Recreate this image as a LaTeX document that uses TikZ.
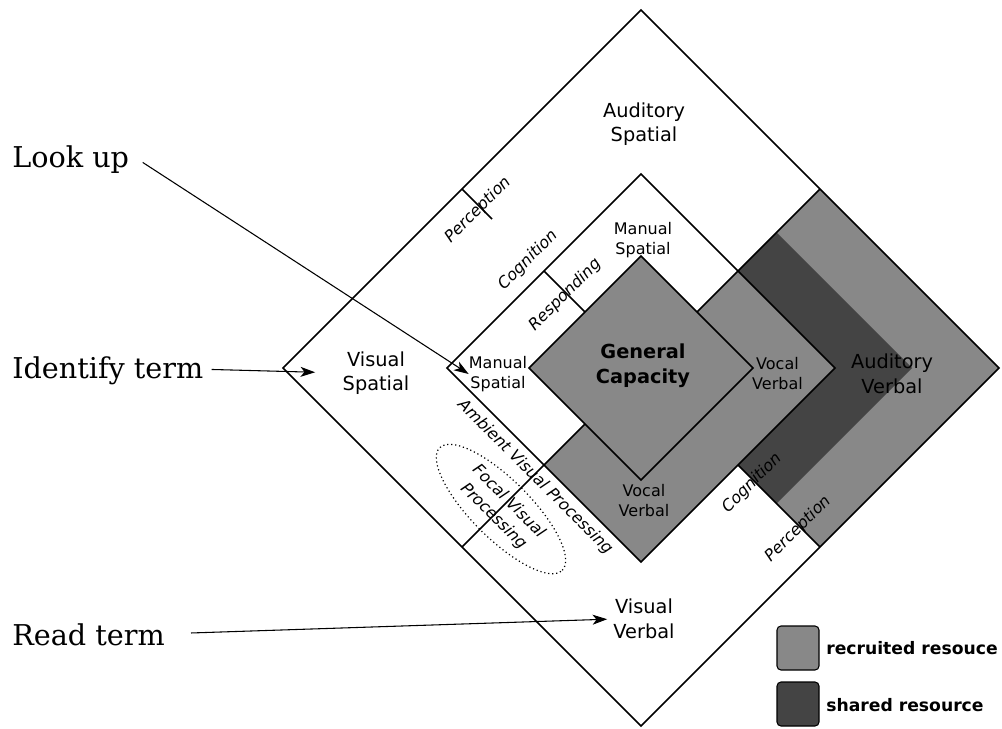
\documentclass[tikz,border=0pt]{standalone}
\usepackage{fontspec}
\setmainfont{DejaVu Serif}
\newfontfamily\dvs{DejaVu Sans}[ItalicFont={DejaVu Sans Oblique},BoldFont={DejaVu Sans Bold}]
\usetikzlibrary{arrows.meta,shapes.geometric,calc}
\definecolor{recruited}{HTML}{888888}
\definecolor{shared}{HTML}{444444}

\begin{document}
\begin{tikzpicture}[x=0.75pt,y=-0.75pt,
  edge/.style={line width=1.3pt, line join=miter},
  big/.style={font=\dvs\fontsize{14.5}{18.5}\selectfont, align=center, inner sep=0pt},
  small/.style={font=\dvs\fontsize{12}{15}\selectfont, align=center, inner sep=0pt},
  stage/.style={font=\dvs\itshape\fontsize{12}{16}\selectfont, inner sep=0pt},
  task/.style={font=\fontsize{21.5}{26}\selectfont, anchor=base west, inner sep=0pt},
  pointer/.style={line width=0.8pt, -{Stealth[length=11pt,width=7.5pt,inset=3pt]}},
  legendbox/.style={draw, line width=0.8pt, rounded corners=3pt,
    minimum width=31.5pt, minimum height=33pt, inner sep=0pt},
  legendtext/.style={font=\dvs\bfseries\fontsize{12.9}{15}\selectfont, anchor=west, inner sep=0pt}
]
\useasboundingbox (0,0) rectangle (1002,728);

% nested diamonds, all centred on one point
\begin{scope}[shift={(641,368)}]
  % outer diamond
  \coordinate (oT) at (0,-358);  \coordinate (oR) at (358,0);
  \coordinate (oB) at (0,358);   \coordinate (oL) at (-358,0);
  \coordinate (oNE) at (179,-179); \coordinate (oSE) at (179,179);
  \coordinate (oSW) at (-179,179); \coordinate (oNW) at (-179,-179);
  \coordinate (oTick) at (-149,-149);
  % outer edge of the shared band
  \coordinate (dR) at (271,0);
  \coordinate (dNE) at (135.5,-135.5); \coordinate (dSE) at (135.5,135.5);
  % inner diamond
  \coordinate (iT) at (0,-194);  \coordinate (iR) at (194,0);
  \coordinate (iB) at (0,194);   \coordinate (iL) at (-194,0);
  \coordinate (iNE) at (97,-97); \coordinate (iSE) at (97,97);
  \coordinate (iSW) at (-97,97); \coordinate (iNW) at (-97,-97);
  % general capacity diamond
  \coordinate (gT) at (0,-112);  \coordinate (gR) at (112,0);
  \coordinate (gB) at (0,112);   \coordinate (gL) at (-112,0);
  \coordinate (gNE) at (56,-56); \coordinate (gSW) at (-56,56);
  \coordinate (gNW) at (-56,-56);
\end{scope}

% shaded resources
\fill[recruited] (oNE) -- (oR) -- (oSE) -- (iSE) -- (iR) -- (iNE) -- cycle;
\fill[shared] (iNE) -- (dNE) -- (dR) -- (dSE) -- (iSE) -- (iR) -- cycle;
\fill[recruited] (iNE) -- (iR) -- (iB) -- (iSW) -- (gSW) -- (gB) -- (gR) -- (gNE) -- cycle;
\fill[recruited] (gT) -- (gR) -- (gB) -- (gL) -- cycle;

% outlines and stage dividers
\draw[edge] (oT) -- (oR) -- (oB) -- (oL) -- cycle;
\draw[edge] (iT) -- (iR) -- (iB) -- (iL) -- cycle;
\draw[edge] (gT) -- (gR) -- (gB) -- (gL) -- cycle;
\draw[edge] (gNE) -- (oNE);
\draw[edge] (gSW) -- (oSW);
\draw[edge] (iSE) -- (oSE);
\draw[edge] (iNW) -- (gNW);
\draw[edge] (oNW) -- (oTick);

% resource labels
\node[big] (audsp) at (644,124) {Auditory\\Spatial};
\node[big] (vissp) at (376,373) {Visual\\Spatial};
\node[small] (manA) at (643,240) {Manual\\Spatial};
\node[small] (manB) at (498,374) {Manual\\Spatial};
\node[big, font=\dvs\bfseries\fontsize{14.5}{18.5}\selectfont] (gc) at (643,366) {General\\Capacity};
\node[small] (vocA) at (777.5,374) {Vocal\\Verbal};
\node[small] (vocB) at (644,501) {Vocal\\Verbal};
\node[big] (audvb) at (892,374) {Auditory\\Verbal};
\node[big] (visvb) at (644,619) {Visual\\Verbal};

% stage labels
\node[stage, rotate=45] (percA) at (478,210) {Perception};
\node[stage, rotate=45] (cogA) at (528,260) {Cognition};
\node[stage, rotate=45] (resp) at (565,295) {Responding};
\node[stage, rotate=-45] (ambient) at (535,477) {Ambient Visual Processing};
\node[stage, rotate=-45, align=center, ellipse, draw, line width=0.9pt,
  dash pattern=on 0.9pt off 2.1pt, minimum width=130pt, minimum height=44pt]
  (focal) at (501,509) {Focal Visual\\Processing};
\node[stage, rotate=45] (cogB) at (752,483) {Cognition};
\node[stage, rotate=45] (percB) at (798,529) {Perception};

% tasks and where they draw on
\node[task] (lookup) at (12,167) {Look up};
\node[task] (identify) at (12,378.5) {Identify term};
\node[task] (read) at (12,645) {Read term};
\draw[pointer] ([xshift=10pt,yshift=-2.5pt]lookup.east) -- (manB.west);
\draw[pointer, shorten >=20.5pt] ([xshift=6pt,yshift=1pt]identify.east) -- (vissp.west);
\draw[pointer, shorten >=4.5pt] ([xshift=19.5pt,yshift=1pt]read.east) -- (visvb.west);

% legend
\node[legendbox, fill=recruited] (boxA) at (798,648) {};
\node[legendbox, fill=shared] (boxB) at (798,704) {};
\node[legendtext] (txtA) at (826,648.5) {recruited resouce};
\node[legendtext] (txtB) at (826,705) {shared resource};
\end{tikzpicture}
\end{document}
